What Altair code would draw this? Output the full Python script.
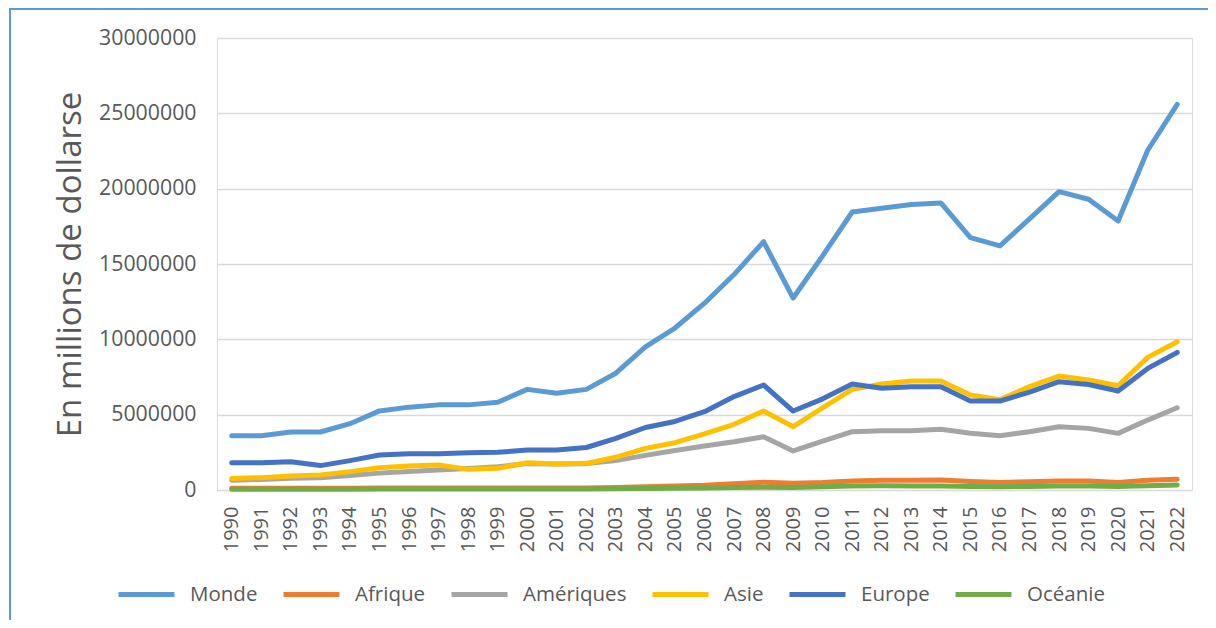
import altair as alt
import pandas as pd

years = [str(y) for y in range(1990, 2023)]
series = ["Monde", "Afrique", "Amériques", "Asie", "Europe", "Océanie"]
colors = ["#5B9BD5", "#ED7D31", "#A5A5A5", "#FFC000", "#4472C4", "#70AD47"]

# values in millions (displayed in units of the axis)
monde = [3.6, 3.6, 3.85, 3.85, 4.4, 5.25, 5.5, 5.65, 5.65, 5.82,
         6.68, 6.42, 6.68, 7.75, 9.5, 10.75, 12.4, 14.3, 16.48, 12.74,
         15.55, 18.45, 18.7, 18.95, 19.05, 16.75, 16.2, 18.0, 19.8, 19.3,
         17.85, 22.55, 25.6]
afrique = [0.12, 0.12, 0.12, 0.11, 0.11, 0.13, 0.14, 0.14, 0.13, 0.13,
           0.13, 0.13, 0.14, 0.17, 0.22, 0.27, 0.32, 0.42, 0.52, 0.45,
           0.5, 0.6, 0.64, 0.65, 0.66, 0.56, 0.49, 0.55, 0.6, 0.6,
           0.5, 0.65, 0.71]
ameriques = [0.65, 0.7, 0.78, 0.82, 0.97, 1.12, 1.22, 1.32, 1.42, 1.55,
             1.75, 1.72, 1.75, 1.95, 2.3, 2.62, 2.92, 3.2, 3.54, 2.59,
             3.25, 3.87, 3.94, 3.94, 4.03, 3.76, 3.6, 3.87, 4.2, 4.09,
             3.76, 4.64, 5.46]
asie = [0.77, 0.82, 0.93, 1.0, 1.22, 1.48, 1.59, 1.66, 1.37, 1.44,
        1.81, 1.72, 1.77, 2.17, 2.76, 3.14, 3.72, 4.36, 5.24, 4.2,
        5.46, 6.68, 7.03, 7.23, 7.23, 6.3, 6.0, 6.86, 7.56, 7.3,
        6.92, 8.8, 9.84]
europe = [1.81, 1.81, 1.88, 1.62, 1.95, 2.32, 2.4, 2.4, 2.48, 2.5,
          2.65, 2.65, 2.82, 3.43, 4.15, 4.55, 5.2, 6.2, 6.97, 5.24,
          6.05, 7.03, 6.75, 6.86, 6.86, 5.9, 5.9, 6.5, 7.19, 7.0,
          6.57, 8.07, 9.13]
oceanie = [0.05, 0.05, 0.05, 0.05, 0.05, 0.06, 0.06, 0.07, 0.06, 0.06,
           0.06, 0.06, 0.07, 0.08, 0.1, 0.12, 0.14, 0.17, 0.19, 0.17,
           0.22, 0.27, 0.28, 0.27, 0.26, 0.23, 0.21, 0.24, 0.26, 0.26,
           0.24, 0.29, 0.33]
y_ticks = [0, 5000000, 10000000, 15000000, 20000000, 25000000, 30000000]

rows = []
for name, vals in zip(series, [monde, afrique, ameriques, asie, europe, oceanie]):
    for yr, v in zip(years, vals):
        rows.append({"annee": yr, "serie": name, "valeur": round(v * 1e6)})
df = pd.DataFrame(rows)

FONT = "Open Sans"
GREY = "#595959"

x_enc = alt.X(
    "annee:O",
    sort=years,
    scale=alt.Scale(type="point", padding=0.5),
    axis=alt.Axis(
        title=None, labelAngle=-90, labelFont=FONT, labelFontSize=20,
        labelColor=GREY, labelPadding=16, ticks=False, domain=False, grid=False,
    ),
)
y_enc = alt.Y(
    "valeur:Q",
    scale=alt.Scale(domain=[0, 30000000], nice=False),
    axis=alt.Axis(
        values=y_ticks, format="d", title="En millions de dollarse",
        titleFont=FONT, titleFontSize=33, titleFontWeight="normal",
        titleColor=GREY, titlePadding=11, labelFont=FONT, labelFontSize=21.3,
        labelColor=GREY, labelPadding=21, ticks=False, domain=False,
        grid=True, gridColor="#D9D9D9", gridWidth=1.6,
    ),
)
color_enc = alt.Color(
    "serie:N",
    scale=alt.Scale(domain=series, range=colors),
    legend=alt.Legend(
        title=None, orient="none", legendX=-101, legendY=526,
        direction="horizontal", symbolType="stroke", symbolSize=3136,
        symbolStrokeWidth=5, labelFont=FONT, labelFontSize=20.5,
        labelColor=GREY, labelOffset=13, columnPadding=15, padding=0,
    ),
)

border = alt.Chart(pd.DataFrame({"k": [0]})).mark_rect(
    filled=False, stroke="#5B9BD5", strokeWidth=2
).encode(
    x=alt.value(-207), x2=alt.value(1300), y=alt.value(-29), y2=alt.value(800)
)

layers = [border]
for s in series:
    layers.append(
        alt.Chart(df)
        .transform_filter(alt.datum.serie == s)
        .mark_line(strokeWidth=5, strokeCap="round", strokeJoin="round")
        .encode(x=x_enc, y=y_enc, color=color_enc)
    )

chart = (
    alt.layer(*layers)
    .properties(
        width=975, height=452, autosize="none",
        padding={"left": 209, "top": 30, "right": 16, "bottom": 130},
    )
    .configure_view(stroke=None)
    .configure(background="white")
)

chart.save("out.html", embed_options={"renderer": "svg", "actions": False})
